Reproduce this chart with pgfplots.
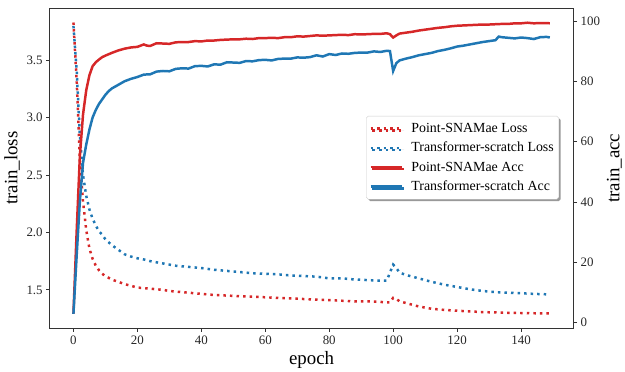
\documentclass[border=0pt]{standalone}
\usepackage{pgfplots}
\pgfplotsset{compat=1.18}
\usepackage{fontspec}
\setmainfont{Liberation Serif}
\usetikzlibrary{calc,shadows}
\definecolor{tred}{HTML}{D62728}
\definecolor{tblue}{HTML}{1F77B4}
\begin{document}
\begin{tikzpicture}
\pgfplotsset{
 common/.style={scale only axis, width=528pt, height=323pt, xmin=-7.45, xmax=156.45,
  tick align=outside, major tick length=3.5pt,
  every tick/.style={black!80, line width=0.8pt},
  axis line style={black!80, line width=0.8pt},
  tick label style={font=\fontsize{13}{15}\selectfont, text=black!85},
  /pgf/number format/assume math mode=true,
  label style={font=\fontsize{19}{22}\selectfont},
 },
 lossst/.style={line width=2.5pt, dash pattern=on 2.5pt off 4.1pt},
 accst/.style={line width=2.5pt},
}
\begin{axis}[common, name=ax, ymin=1.163, ymax=3.957,
  ytick={1.5,2,2.5,3,3.5},
  yticklabel style={/pgf/number format/fixed, /pgf/number format/precision=1, /pgf/number format/fixed zerofill},
  xtick={0,20,...,140}, xtick pos=bottom, ytick pos=left,
  xlabel={epoch}, ylabel={train\_loss}]
\addplot[tred, lossst] coordinates {
(0,3.83)(1,3.33)(2,2.64)(3,2.27)(4,2.02)(5,1.86)(6,1.77)(7,1.71)(8,1.67)(9,1.64)(10,1.62)
(12,1.59)(14,1.57)(16,1.55)(18,1.535)(20,1.52)(22,1.515)(24,1.51)(26,1.505)(28,1.50)(30,1.49)
(32,1.485)(34,1.48)(36,1.475)(38,1.47)(40,1.465)(44,1.455)(48,1.45)(52,1.445)(56,1.44)(60,1.435)
(64,1.43)(68,1.425)(72,1.42)(76,1.415)(80,1.41)(84,1.405)(88,1.40)(92,1.40)(96,1.395)(98,1.39)
(99,1.39)(100,1.43)(101,1.42)(102,1.40)(104,1.385)(106,1.37)(108,1.355)(110,1.345)(112,1.335)
(116,1.325)(120,1.318)(124,1.312)(128,1.306)(132,1.303)(136,1.30)(140,1.298)(144,1.296)(149,1.294)
};
\addplot[tblue, lossst] coordinates {
(0,3.80)(1,3.42)(2,2.85)(3,2.50)(4,2.32)(5,2.20)(6,2.12)(7,2.06)(8,2.01)(9,1.98)(10,1.94)
(12,1.89)(14,1.85)(16,1.81)(18,1.79)(20,1.775)(22,1.765)(24,1.75)(26,1.74)(28,1.73)(30,1.72)
(32,1.71)(34,1.705)(36,1.70)(38,1.695)(40,1.69)(44,1.675)(48,1.665)(52,1.655)(56,1.645)(60,1.64)
(64,1.635)(68,1.625)(72,1.62)(76,1.615)(80,1.60)(84,1.60)(88,1.59)(92,1.585)(96,1.58)(98,1.58)
(99,1.65)(100,1.72)(101,1.69)(102,1.65)(104,1.63)(106,1.615)(108,1.60)(110,1.585)(112,1.57)
(116,1.545)(120,1.525)(124,1.505)(128,1.49)(132,1.48)(136,1.475)(140,1.47)(144,1.465)(149,1.46)
};
\end{axis}
\begin{axis}[common, ymin=-1.97, ymax=104.3,
  axis y line*=right, axis x line=none,
  ytick={0,20,...,100}, ylabel={train\_acc},
  legend style={at={(0.972,0.533)}, anchor=east, draw=black!20, rounded corners=2pt, fill=white,
    font=\fontsize{14}{16}\selectfont, row sep=4.5pt, inner xsep=3pt, inner ysep=5pt,
    drop shadow={shadow xshift=2pt, shadow yshift=-2pt, fill=black!40, opacity=1},
    cells={anchor=west}},
  legend image code/.code={\draw[#1] (0pt,0pt) -- (32pt,0pt); \path (38pt,0pt);}]
\addlegendimage{tred, lossst}
\addlegendentry{Point-SNAMae Loss}
\addlegendimage{tblue, lossst}
\addlegendentry{Transformer-scratch Loss}
\addplot[tred, accst] coordinates {
(0,2.9)(1,30)(2,55)(3,69)(4,77)(5,82)(6,85)(7,86.3)(8,87.2)(9,88)(10,88.5)(12,89.4)(14,90.2)
(16,90.8)(18,91.2)(20,91.4)(22,92.2)(23,91.8)(24,91.7)(26,92.6)(28,92.5)(30,92.4)(32,92.9)
(34,93.0)(36,93.0)(38,93.3)(40,93.2)(42,93.5)(44,93.5)(46,93.7)(48,93.8)(50,93.9)(52,93.9)
(54,94.1)(56,94.0)(58,94.3)(60,94.3)(62,94.4)(64,94.3)(66,94.6)(68,94.6)(70,94.9)(72,94.8)
(74,95.0)(76,95.2)(78,95.1)(80,95.2)(82,95.3)(84,95.4)(86,95.3)(88,95.6)(90,95.5)(92,95.6)
(94,95.7)(96,95.7)(98,95.9)(99,95.6)(100,94.5)(101,95.2)(102,95.8)(104,96.1)(106,96.4)
(108,96.8)(110,97.1)(112,97.4)(114,97.7)(116,97.9)(118,98.2)(120,98.4)(122,98.5)(124,98.6)
(126,98.7)(128,98.8)(130,98.8)(132,98.9)(134,99.0)(136,99.0)(138,99.2)(140,99.2)(142,99.4)
(144,99.2)(146,99.3)(148,99.3)(149,99.2)
};
\addlegendentry{Point-SNAMae Acc}
\addplot[tblue, accst] coordinates {
(0,2.9)(1,22)(2,40)(3,53)(4,59)(5,64)(6,68)(7,70.5)(8,72.5)(9,74)(10,75.5)(11,76.7)(12,77.6)
(14,78.8)(16,80)(18,80.8)(20,81.4)(22,82.2)(24,82.3)(26,83.2)(28,83.4)(30,83.3)(32,84.1)
(34,84.3)(36,84.2)(38,85.0)(40,85.1)(42,84.9)(44,85.6)(46,85.5)(48,86.3)(50,86.2)(52,86.1)
(54,86.7)(56,86.6)(58,87.0)(60,87.1)(62,86.9)(64,87.4)(66,87.5)(68,87.5)(70,87.9)(72,87.8)
(74,88.0)(76,88.6)(78,88.2)(80,89.0)(82,88.7)(84,89.2)(86,89.1)(88,89.4)(90,89.5)(92,89.5)
(94,89.9)(96,89.7)(98,90.1)(99,90.0)(100,83.4)(101,86.0)(102,86.9)(104,87.5)(106,88.0)
(108,88.6)(110,89.0)(112,89.4)(114,90.0)(116,90.4)(118,90.9)(120,91.5)(122,91.8)(124,92.2)
(126,92.6)(128,93.0)(130,93.3)(132,93.6)(133,94.8)(134,94.6)(136,94.4)(138,94.2)(140,94.5)
(142,94.3)(144,94.0)(146,94.6)(148,94.7)(149,94.5)
};
\addlegendentry{Transformer-scratch Acc}
\end{axis}
\path ($(ax.south west)+(-50pt,-41pt)$) rectangle ($(ax.north east)+(47pt,8pt)$);
\end{tikzpicture}
\end{document}
